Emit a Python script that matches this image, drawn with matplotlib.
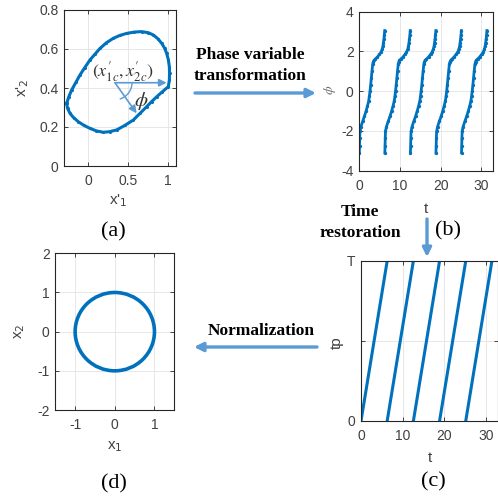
import numpy as np
import matplotlib
matplotlib.use('Agg')
import matplotlib.pyplot as plt
from matplotlib.patches import Circle, Arc, FancyArrowPatch

plt.rcParams['axes.unicode_minus'] = False

# ---------------- data ----------------
# (a) limit cycle in transformed coordinates
a_x1 = [-0.267, -0.240, -0.204, -0.150, -0.100, -0.040, 0.025, 0.090, 0.150, 0.230, 0.317,
        0.400, 0.483, 0.580, 0.671, 0.750, 0.817, 0.875, 0.921, 0.958, 0.983, 1.005, 1.017,
        1.019, 1.017, 1.004, 0.930, 0.858, 0.795, 0.733, 0.650, 0.567, 0.460, 0.358, 0.270,
        0.192, 0.105, 0.025, -0.050, -0.121, -0.180, -0.225, -0.255, -0.267]
a_x2 = [0.321, 0.355, 0.390, 0.430, 0.467, 0.505, 0.544, 0.575, 0.603, 0.632, 0.655,
        0.670, 0.680, 0.687, 0.689, 0.684, 0.672, 0.652, 0.629, 0.604, 0.578, 0.544, 0.509,
        0.475, 0.441, 0.407, 0.381, 0.355, 0.330, 0.304, 0.270, 0.236, 0.208, 0.185, 0.176,
        0.173, 0.180, 0.193, 0.208, 0.227, 0.248, 0.270, 0.295, 0.321]
a_center = (0.3375, 0.427)
a_ref_end = (0.983, 0.427)
a_phi_end = (0.608, 0.270)

# (b) phase variable over one cycle, repeated at each cycle start
b_tau = [0.0, 0.05, 0.10, 0.16, 0.40, 0.82, 1.25, 1.65, 2.00, 2.30, 2.48, 2.63, 2.80, 2.96,
         3.12, 3.29, 3.45, 3.60, 3.95, 4.45, 4.94, 5.30, 5.60, 5.80, 5.93, 6.05, 6.15, 6.25]
b_phi = [-3.10, -2.75, -2.35, -2.02, -1.78, -1.52, -1.27, -1.01, -0.75, -0.50, -0.25, 0.00,
         0.33, 0.67, 1.02, 1.35, 1.48, 1.55, 1.62, 1.72, 1.85, 1.95, 2.10, 2.25, 2.44, 2.62,
         2.82, 3.05]
cycle_starts = [0.0, 6.28, 12.57, 18.85, 25.13]

# (c) time restoration
T_period = 6.28

# (d) normalized cycle
d_center = (0.0, 0.0)
d_radius = 1.0

# ---------------- style ----------------
LINE = '#0072BD'
ARROW = '#5B9BD5'
AXC = '#262626'
TICKC = '#404040'
SANS = 'Liberation Sans'
SERIF = 'Liberation Serif'

W, H = 498, 497
fig = plt.figure(figsize=(W / 100, H / 100), dpi=100)


def rect(l, t, r, b):
    return [l / W, 1 - b / H, (r - l) / W, (b - t) / H]


def fx(px):
    return px / W


def fy(py):
    return 1 - py / H


def style(ax):
    ax.tick_params(direction='in', length=3, width=0.6, color=AXC, labelcolor=TICKC,
                   labelsize=10, top=True, right=True)
    ax.tick_params(axis='x', pad=6)
    ax.tick_params(axis='y', pad=4)
    for lab in ax.get_xticklabels() + ax.get_yticklabels():
        lab.set_fontfamily(SANS)
    for s in ax.spines.values():
        s.set_color(AXC)
        s.set_linewidth(0.8)
    ax.grid(True, color='#E3E3E3', linewidth=0.6)
    ax.set_axisbelow(True)


# ---------- (a) ----------
axa = fig.add_axes(rect(64, 10, 176, 166))
axa.plot(a_x1, a_x2, '-', color=LINE, lw=2.2, marker='o', ms=2.2, mew=0)
axa.set_xlim(-0.3, 1.1)
axa.set_ylim(0, 0.8)
axa.set_xticks([0, 0.5, 1])
axa.set_xticklabels(['0', '0.5', '1'])
axa.set_yticks([0, 0.2, 0.4, 0.6, 0.8])
axa.set_yticklabels(['0', '0.2', '0.4', '0.6', '0.8'])
style(axa)
axa.annotate('', xy=a_ref_end, xytext=a_center,
             arrowprops=dict(arrowstyle='-|>', color=ARROW, lw=1.2, mutation_scale=11,
                             shrinkA=0, shrinkB=0))
axa.annotate('', xy=a_phi_end, xytext=a_center,
             arrowprops=dict(arrowstyle='-|>', color=ARROW, lw=1.2, mutation_scale=11,
                             shrinkA=0, shrinkB=0))
axa.add_patch(Arc(a_center, 2 * 17 / 80, 2 * 17 / 195, theta1=-55, theta2=0,
                  color=ARROW, lw=1.0))
axa.text(0.44, 0.485, r"$(x^{\prime}_{1c}, x^{\prime}_{2c})$", math_fontfamily='stix',
         fontsize=13, ha='center', va='center', color='#333333')
axa.text(0.665, 0.335, r"$\phi$", math_fontfamily='stix', fontsize=15, ha='center',
         va='center', color='#333333')
fig.text(fx(118), fy(201), "x'$_{1}$", fontsize=11, family=SANS, color=TICKC,
         ha='center', va='center')
fig.text(fx(23), fy(88), "x'$_{2}$", fontsize=11, family=SANS, color=TICKC,
         ha='center', va='center', rotation=90)
fig.text(fx(113), fy(232), '(a)', fontsize=16, family=SERIF, ha='center', va='center')

# ---------- (b) ----------
axb = fig.add_axes(rect(359.3, 11.7, 492.7, 170.7))
for s in cycle_starts:
    axb.plot([s + t for t in b_tau], b_phi, '-', color=LINE, lw=2.0, marker='o', ms=2.4,
             mew=0)
axb.set_xlim(0, 32.8)
axb.set_ylim(-4, 4)
axb.set_xticks([0, 10, 20, 30])
axb.set_yticks([-4, -2, 0, 2, 4])
style(axb)
fig.text(fx(426), fy(209), 't', fontsize=11, family=SANS, color=TICKC, ha='center',
         va='center')
fig.text(fx(330), fy(90), r'$\phi$', math_fontfamily='stix', fontsize=10, color='#707070',
         ha='center', va='center', rotation=90)
fig.text(fx(448), fy(231), '(b)', fontsize=16, family=SERIF, ha='center', va='center')

# ---------- (c) ----------
axc = fig.add_axes(rect(361, 261, 497.7, 421))
for s in cycle_starts:
    axc.plot([s, s + T_period], [0, T_period], '-', color=LINE, lw=2.2)
axc.set_xlim(0, 32.8)
axc.set_ylim(0, T_period)
axc.set_xticks([0, 10, 20, 30])
axc.set_yticks([0, T_period / 2, T_period])
axc.set_yticklabels(['0', '', 'T'])
style(axc)
fig.text(fx(430), fy(458), 't', fontsize=11, family=SANS, color=TICKC, ha='center',
         va='center')
fig.text(fx(337), fy(343), 'tp', fontsize=11, family=SANS, color=TICKC, ha='center',
         va='center', rotation=90)
fig.text(fx(433), fy(482), '(c)', fontsize=16, family=SERIF, ha='center', va='center')

# ---------- (d) ----------
axd = fig.add_axes(rect(55.3, 253.3, 174.3, 410))
axd.add_patch(Circle(d_center, d_radius, fill=False, ec=LINE, lw=2.6))
axd.set_xlim(-1.5, 1.5)
axd.set_ylim(-2, 2)
axd.set_xticks([-1, 0, 1])
axd.set_yticks([-2, -1, 0, 1, 2])
style(axd)
fig.text(fx(115), fy(447), 'x$_{1}$', fontsize=11, family=SANS, color=TICKC, ha='center',
         va='center')
fig.text(fx(20), fy(331), 'x$_{2}$', fontsize=11, family=SANS, color=TICKC, ha='center',
         va='center', rotation=90)
fig.text(fx(114), fy(484), '(d)', fontsize=16, family=SERIF, ha='center', va='center')

# ---------- process arrows and captions ----------
def farrow(p0, p1):
    fig.add_artist(FancyArrowPatch((fx(p0[0]), fy(p0[1])), (fx(p1[0]), fy(p1[1])),
                                   transform=fig.transFigure, arrowstyle='-|>',
                                   mutation_scale=13, lw=2.4, color=ARROW,
                                   shrinkA=0, shrinkB=0))


farrow((195, 93), (316, 93))
fig.text(fx(250), fy(55), 'Phase variable', fontsize=12.5, family=SERIF, weight='bold',
         ha='center', va='center')
fig.text(fx(250), fy(76), 'transformation', fontsize=12.5, family=SERIF, weight='bold',
         ha='center', va='center')

farrow((427, 219), (427, 257))
fig.text(fx(360), fy(212), 'Time', fontsize=12.5, family=SERIF, weight='bold',
         ha='center', va='center')
fig.text(fx(360), fy(233), 'restoration', fontsize=12.5, family=SERIF, weight='bold',
         ha='center', va='center')

farrow((317, 347), (194, 347))
fig.text(fx(261), fy(331), 'Normalization', fontsize=12.5, family=SERIF, weight='bold',
         ha='center', va='center')

fig.savefig('out.png', dpi=100)
